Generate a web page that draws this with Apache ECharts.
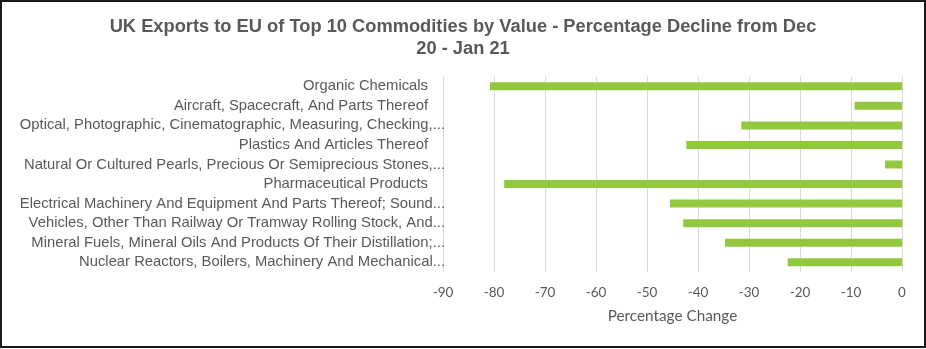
<!DOCTYPE html>
<html>
<head>
<meta charset="utf-8">
<script src="https://cdn.jsdelivr.net/npm/echarts@6/dist/echarts.min.js"></script>
<style>
  html, body { margin: 0; padding: 0; background: #fff; }
  #chart { width: 926px; height: 349px; }
</style>
</head>
<body>
<div id="chart"></div>
<script>
// Commodity groups, top to bottom
const categories = [
  "Organic Chemicals",
  "Aircraft, Spacecraft, And Parts Thereof",
  "Optical, Photographic, Cinematographic, Measuring, Checking,...",
  "Plastics And Articles Thereof",
  "Natural Or Cultured Pearls, Precious Or Semiprecious Stones,...",
  "Pharmaceutical Products",
  "Electrical Machinery And Equipment And Parts Thereof; Sound...",
  "Vehicles, Other Than Railway Or Tramway Rolling Stock, And...",
  "Mineral Fuels, Mineral Oils And Products Of Their Distillation;...",
  "Nuclear Reactors, Boilers, Machinery And Mechanical..."
];

// Percentage change Dec 20 -> Jan 21
const percentChange = [-80.8, -9.3, -31.5, -42.3, -3.3, -78.0, -45.5, -42.9, -34.7, -22.4];

const xTicks = { min: -90, max: 0, step: 10 };

const chart = echarts.init(document.getElementById('chart'), null, { renderer: 'canvas' });

chart.setOption({
  animation: false,
  backgroundColor: '#ffffff',
  title: {
    text: 'UK Exports to EU of Top 10 Commodities by Value - Percentage Decline from Dec\n20 - Jan 21',
    left: 'center',
    top: 11.5,
    textStyle: {
      fontFamily: 'Liberation Sans, Arial, sans-serif',
      fontSize: 18.3,
      fontWeight: 'bold',
      color: '#595959',
      lineHeight: 21.5
    }
  },
  graphic: [{
    type: 'rect',
    shape: { x: 1, y: 1, width: 924, height: 346 },
    style: { fill: 'none', stroke: '#1a1a1a', lineWidth: 2 },
    silent: true
  }],
  grid: {
    left: 443,
    right: 24,
    top: 76.5,
    bottom: 77,
    containLabel: false
  },
  xAxis: {
    type: 'value',
    min: xTicks.min,
    max: xTicks.max,
    interval: xTicks.step,
    name: 'Percentage Change',
    nameLocation: 'middle',
    nameGap: 37,
    nameTextStyle: {
      fontFamily: 'Lato, Open Sans, sans-serif',
      fontSize: 15.3,
      color: '#595959'
    },
    axisLine: { show: false },
    axisTick: { show: false },
    axisLabel: {
      margin: 14,
      fontFamily: 'Lato, Open Sans, sans-serif',
      fontSize: 13.5,
      color: '#595959'
    },
    splitLine: { show: true, lineStyle: { color: '#d9d9d9', width: 1 } }
  },
  yAxis: {
    type: 'category',
    data: categories,
    inverse: true,
    axisLine: { show: false },
    axisTick: { show: false },
    splitLine: { show: false },
    axisLabel: {
      margin: -2,
      fontFamily: 'Liberation Sans, Arial, sans-serif',
      fontSize: 14.8,
      color: '#595959',
      formatter: function (v) {
        return v.endsWith('...') ? v : v + '{pad|}';
      },
      rich: {
        pad: { width: 17 }
      }
    }
  },
  series: [{
    type: 'bar',
    data: percentChange,
    barWidth: 8,
    itemStyle: { color: '#92c83e' },
    silent: true
  }]
});
</script>
</body>
</html>
